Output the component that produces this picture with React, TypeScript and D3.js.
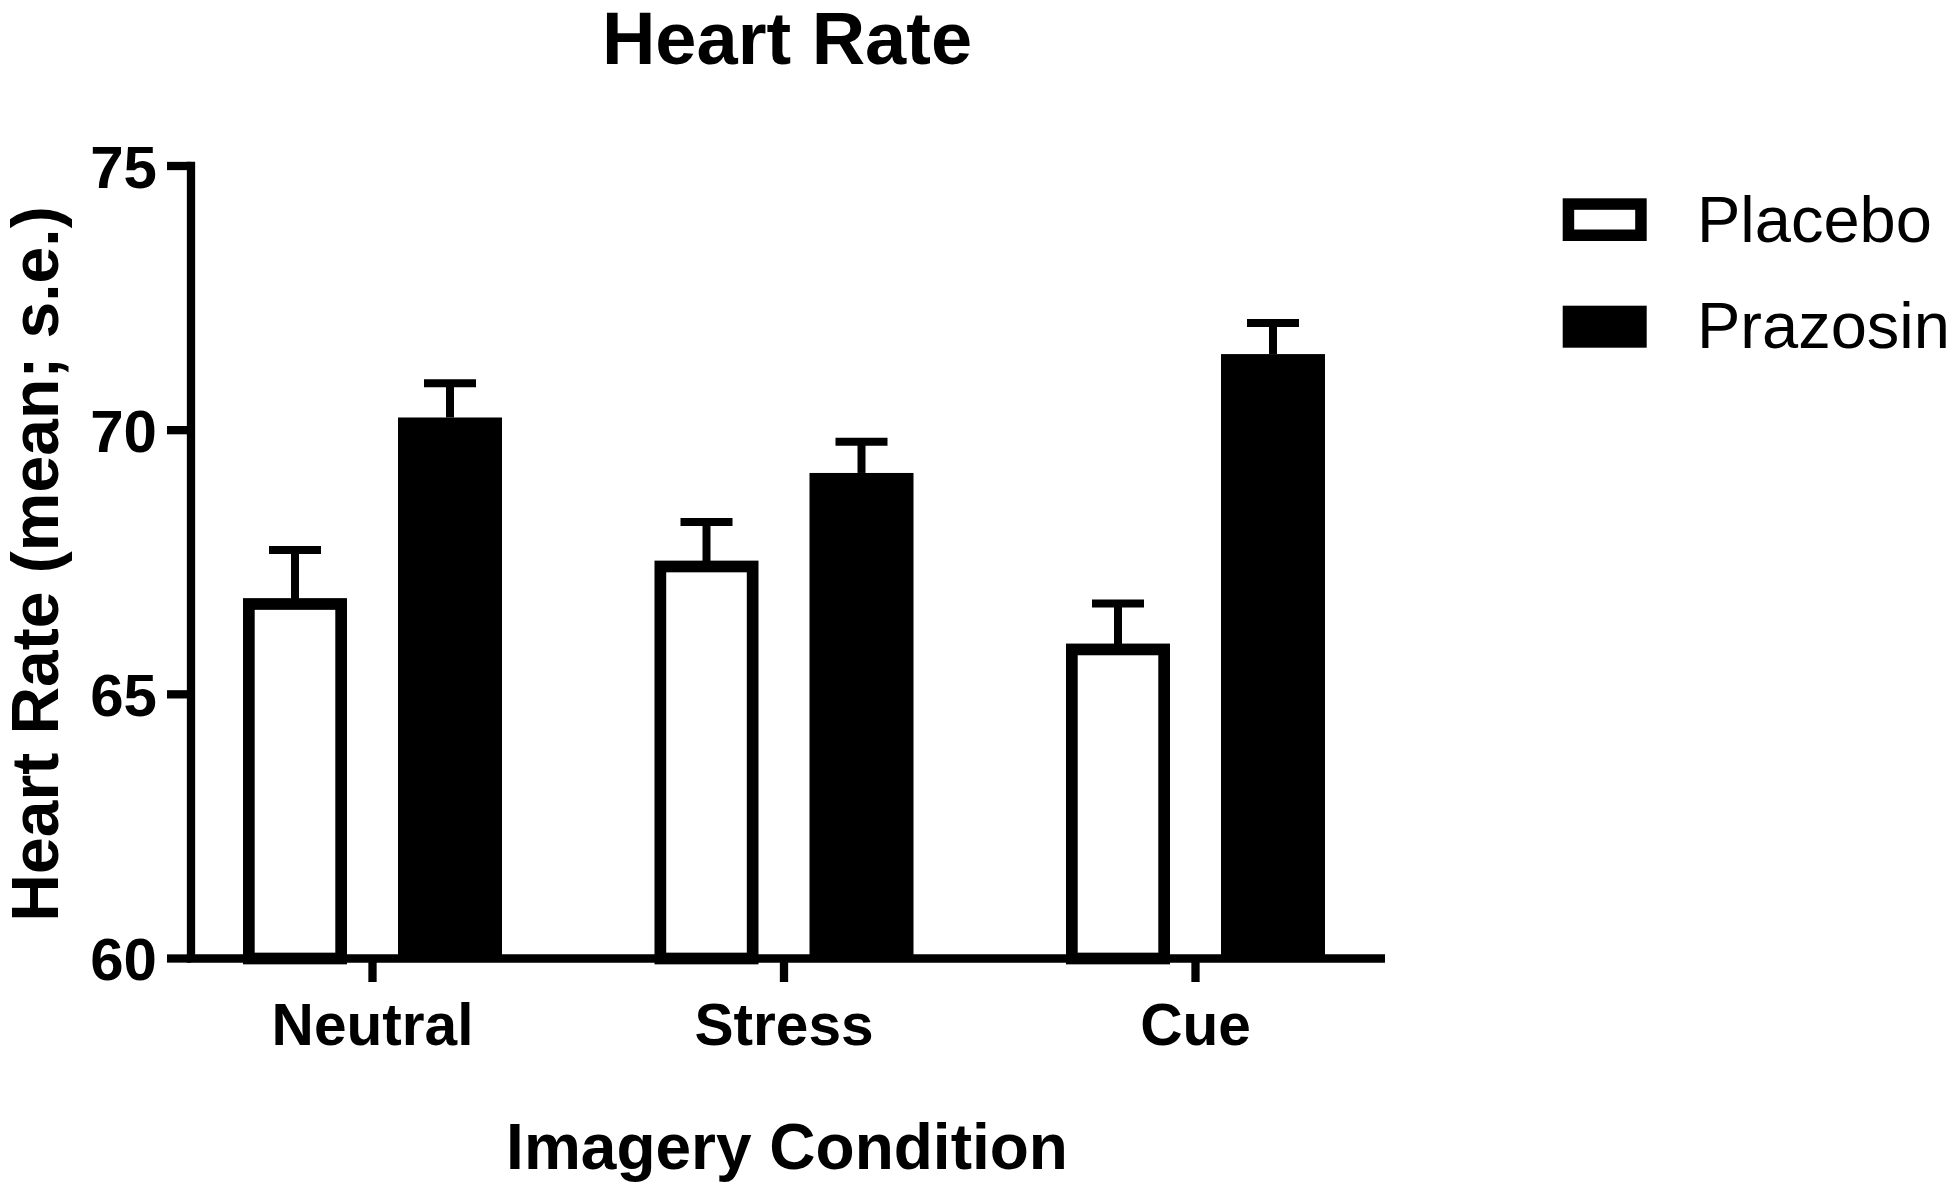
import React from "react";
import * as d3 from "d3";

const categories = ["Neutral", "Stress", "Cue"];
const seriesNames = ["Placebo", "Prazosin"];
const placeboMeans = [66.71, 67.42, 65.85];
const placeboSE = [1.02, 0.84, 0.87];
const prazosinMeans = [70.24, 69.19, 71.44];
const prazosinSE = [0.65, 0.59, 0.59];
const yTicks = [60, 65, 70, 75];

const W = 1950;
const H = 1191;
const FONT = "'Liberation Sans', Arial, Helvetica, sans-serif";

export default function App() {
  const y = d3.scaleLinear().domain([60, 75]).range([958.5, 166]);
  const axisLeft = 191;
  const axisRight = 1385;
  const x = d3
    .scalePoint<string>()
    .domain(categories)
    .range([axisLeft + 181.5, axisRight - 189.5]);
  const sub = d3
    .scaleBand<string>()
    .domain(seriesNames)
    .range([-129.5, 129.5])
    .paddingInner(51 / 155)
    .paddingOuter(0);
  const bw = sub.bandwidth();
  const sw = 11.7; // placebo border
  const lw = 8.3; // axis line width
  const ew = 8; // error bar line width
  const capW = 52;

  const series = [
    { name: "Placebo", means: placeboMeans, se: placeboSE, filled: false },
    { name: "Prazosin", means: prazosinMeans, se: prazosinSE, filled: true },
  ];

  const base = y(60);

  return (
    <svg
      width={W}
      height={H}
      style={{ position: "absolute", left: 0, top: 0, background: "#fff" }}
      fontFamily={FONT}
    >
      <rect x={0} y={0} width={W} height={H} fill="#fff" />
      {/* Title */}
      <text x={787} y={64} textAnchor="middle" fontSize={74} fontWeight="bold">
        Heart Rate
      </text>

      {/* Bars */}
      {series.map((s) =>
        categories.map((c, i) => {
          const cx = (x(c) as number) + (sub(s.name) as number);
          const v = s.means[i];
          const top = y(v);
          const errTop = y(v + s.se[i]);
          const cxMid = cx + bw / 2;
          return (
            <g key={s.name + c}>
              <line
                x1={cxMid}
                x2={cxMid}
                y1={top}
                y2={errTop}
                stroke="#000"
                strokeWidth={ew}
              />
              <line
                x1={cxMid - capW / 2}
                x2={cxMid + capW / 2}
                y1={errTop}
                y2={errTop}
                stroke="#000"
                strokeWidth={ew}
              />
              {s.filled ? (
                <rect x={cx} y={top} width={bw} height={base - top} fill="#000" />
              ) : (
                <rect
                  x={cx + sw / 2}
                  y={top}
                  width={bw - sw}
                  height={base - top}
                  fill="#fff"
                  stroke="#000"
                  strokeWidth={sw}
                />
              )}
            </g>
          );
        })
      )}

      {/* Y axis */}
      <line x1={axisLeft} x2={axisLeft} y1={y(75) - lw / 2} y2={base} stroke="#000" strokeWidth={lw} />
      {yTicks.map((t) => (
        <g key={t}>
          <line x1={167} x2={axisLeft} y1={y(t)} y2={y(t)} stroke="#000" strokeWidth={lw} />
          <text
            x={157}
            y={y(t) + 21.5}
            textAnchor="end"
            fontSize={60}
            fontWeight="bold"
          >
            {t}
          </text>
        </g>
      ))}

      {/* X axis */}
      <line x1={axisLeft - lw / 2} x2={axisRight} y1={base} y2={base} stroke="#000" strokeWidth={lw} />
      {categories.map((c) => (
        <g key={c}>
          <line
            x1={x(c) as number}
            x2={x(c) as number}
            y1={base}
            y2={982}
            stroke="#000"
            strokeWidth={lw}
          />
          <text
            x={x(c) as number}
            y={1045}
            textAnchor="middle"
            fontSize={58.6}
            fontWeight="bold"
          >
            {c}
          </text>
        </g>
      ))}

      {/* Axis titles */}
      <text x={787} y={1169} textAnchor="middle" fontSize={64} fontWeight="bold">
        Imagery Condition
      </text>
      <text
        transform={`translate(58, 564) rotate(-90)`}
        textAnchor="middle"
        fontSize={66}
        fontWeight="bold"
      >
        Heart Rate (mean; s.e.)
      </text>

      {/* Legend */}
      <rect
        x={1562.7 + 11.5 / 2}
        y={198.3 + 11.5 / 2}
        width={84 - 11.5}
        height={42.7 - 11.5}
        fill="#fff"
        stroke="#000"
        strokeWidth={11.5}
      />
      <text x={1697} y={241.7} fontSize={65}>
        {seriesNames[0]}
      </text>
      <rect x={1562.7} y={305.7} width={84} height={42} fill="#000" />
      <text x={1697} y={348.3} fontSize={65}>
        {seriesNames[1]}
      </text>
    </svg>
  );
}
